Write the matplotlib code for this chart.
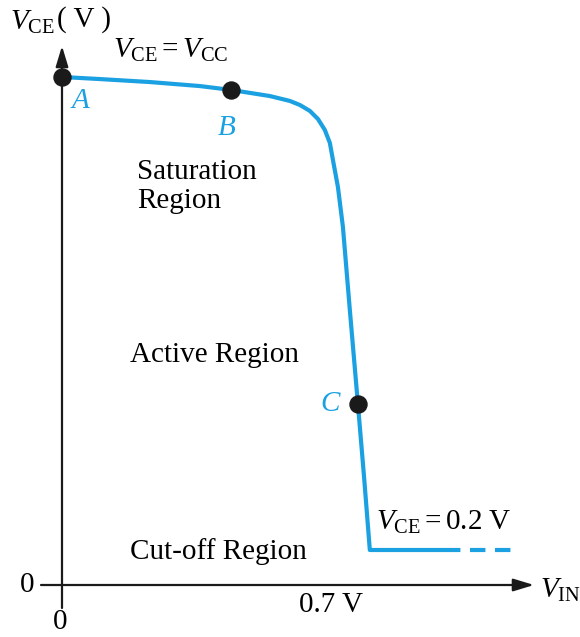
import numpy as np
import matplotlib
import matplotlib.pyplot as plt

matplotlib.use("Agg")

plt.rcParams['font.family'] = 'Liberation Serif'
plt.rcParams['mathtext.fontset'] = 'custom'
plt.rcParams['mathtext.rm'] = 'Liberation Serif'
plt.rcParams['mathtext.it'] = 'Liberation Serif:italic'

BLUE = '#1ba1e2'
DARK = '#1a1a1a'

# transfer curve V_CE vs V_IN (volts)
v_in = [0.0, 0.099, 0.229, 0.359, 0.440, 0.541, 0.593, 0.619, 0.645, 0.666,
        0.684, 0.697, 0.705, 0.718, 0.731, 0.749, 0.770, 0.786, 0.801, 0.997]
v_ce = [2.903, 2.891, 2.874, 2.851, 2.829, 2.794, 2.766, 2.743, 2.709, 2.663,
        2.600, 2.526, 2.429, 2.274, 2.046, 1.571, 1.034, 0.617, 0.200, 0.200]
v_sat = 0.2
v_tail_end = 1.19
v_th = 0.7

# marked operating points
pt_names = ['A', 'B', 'C']
pt_in = [0.0, 0.440, 0.770]
pt_ce = [2.903, 2.829, 1.034]

# pixel scale of the sketch
sx = 384.3
sy = 175.0
W, H = 580, 637
x0, y0 = 62, 585

fig = plt.figure(figsize=(W / 100, H / 100), dpi=100)
ax = fig.add_axes([0, 0, 1, 1])
ax.set_xlim(-x0 / sx, (W - x0) / sx)
ax.set_ylim(-(H - y0) / sy, y0 / sy)
ax.axis('off')


def p(x, y):
    # pixel position -> data position
    return (x - x0) / sx, (y0 - y) / sy


# axes with arrows
arrow = dict(arrowstyle='-|>,head_length=1.25,head_width=0.38',
             color=DARK, lw=1.6, shrinkA=0, shrinkB=0)
ax.annotate('', xy=p(62, 46), xytext=p(62, 608), arrowprops=arrow)
ax.annotate('', xy=p(534, 585), xytext=p(41, 585), arrowprops=arrow)

# curve
ax.plot(v_in, v_ce, color=BLUE, lw=3.0, solid_capstyle='butt',
        solid_joinstyle='round', zorder=3)
ax.plot([v_in[-1], v_tail_end], [v_sat, v_sat], color=BLUE, lw=3.0,
        dashes=(3.7, 2.3), dash_capstyle='butt', zorder=3)

ax.scatter(pt_in, pt_ce, s=150, color=DARK, zorder=5)

lbl_off = [(18, 24), (-4, 38), (-28, 0)]
for name, xi, yi, (dx, dy) in zip(pt_names, pt_in, pt_ce, lbl_off):
    ax.text(xi + dx / sx, yi - dy / sy, name, color=BLUE, fontsize=21,
            style='italic', ha='center', va='center')

fs = 21
ax.text(*p(10, 22), r'$V_{\mathrm{CE}}$', fontsize=fs, ha='left', va='center')
ax.text(*p(57, 20), '( V )', fontsize=fs, ha='left', va='center')
ax.text(*p(113, 50), r'$V_{\mathrm{CE}} = V_{\mathrm{CC}}$', fontsize=fs,
        ha='left', va='center')
ax.text(*p(137, 186), 'Saturation\nRegion', fontsize=fs, ha='left',
        va='center', linespacing=1.15)
ax.text(*p(130, 355), 'Active Region', fontsize=fs, ha='left', va='center')
ax.text(*p(130, 552), 'Cut-off Region', fontsize=fs, ha='left', va='center')
ax.text(*p(376, 522), r'$V_{\mathrm{CE}} = 0.2\ \mathrm{V}$', fontsize=fs,
        ha='left', va='center')
ax.text(*p(540, 590), r'$V_{\mathrm{IN}}$', fontsize=fs, ha='left',
        va='center')

ax.text(*p(331, 605), f'{v_th} V', fontsize=fs, ha='center', va='center')
ax.text(*p(27, 585), '0', fontsize=fs, ha='center', va='center')
ax.text(*p(60, 622), '0', fontsize=fs, ha='center', va='center')

fig.savefig('out.png', dpi=100)
